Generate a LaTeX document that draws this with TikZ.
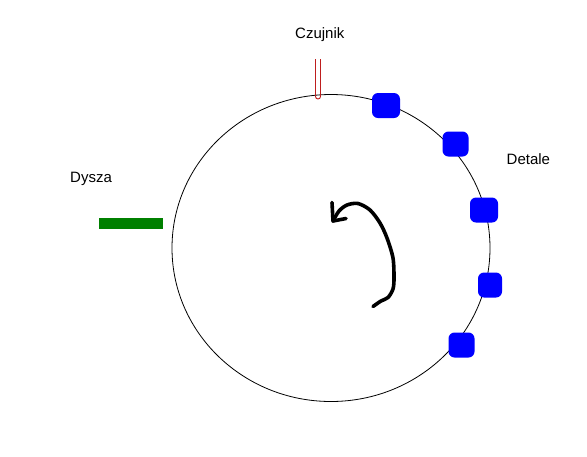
\documentclass[tikz,border=0pt]{standalone}
\usepackage{fontspec}
\setmainfont{Liberation Sans}
\usetikzlibrary{shapes.geometric}
\definecolor{partblue}{RGB}{0,0,255}
\definecolor{nozzlegreen}{RGB}{0,128,0}
\definecolor{sensorred}{RGB}{190,30,30}
\begin{document}
\begin{tikzpicture}[x=1pt,y=-1pt,
  lbl/.style={inner sep=0pt,anchor=base west,font=\fontsize{15}{18}\selectfont},
  part/.style={fill=partblue,draw=none,rounded corners=6pt,minimum width=26pt,minimum height=25pt,inner sep=0pt},
  rotarrow/.style={line width=3.6pt,line cap=round,line join=round}]
\useasboundingbox (0,0) rectangle (587,456);
\fill[white] (0,0) rectangle (587,456);
% turntable
\node[ellipse,draw,line width=0.8pt,minimum width=318pt,minimum height=307pt,inner sep=0pt] (disc) at (331,248) {};
% labels
\node[lbl] (czujnik) at (295,38.5) {Czujnik};
\node[lbl] (dysza) at (70,182.7) {Dysza};
\node[lbl] (detale) at (506.5,164) {Detale};
% nozzle
\node[fill=nozzlegreen,minimum width=64pt,minimum height=11pt,inner sep=0pt] (nozzle) at (131,223.5) {};
% sensor
\coordinate (sensor) at (318,59);
\draw[sensorred,line width=0.9pt] ([xshift=-2.5pt]sensor) -- ++(0,37.5) arc[start angle=180,end angle=360,radius=2.5pt] -- ++(0,-37.5);
% parts
\node[part,minimum width=28pt] (p1) at (386,105.5) {};
\node[part] (p2) at (455.5,144) {};
\node[part,minimum width=28pt] (p3) at (484,210) {};
\node[part,minimum width=24pt] (p4) at (490,285) {};
\node[part] (p5) at (461.5,345) {};
% rotation arrow
\coordinate (astart) at (373,306.5);
\coordinate (atip) at (333,221);
\draw[rotarrow] plot[smooth] coordinates {(astart) (381,301) (388,297.5) (393,289) (394,278) (393,258) (387,238) (380,223) (370,210) (358,203.5) (347,205) (339,211) (atip)};
\draw[rotarrow] (332,202.5) -- (atip) -- (346,218.5);
\end{tikzpicture}
\end{document}
